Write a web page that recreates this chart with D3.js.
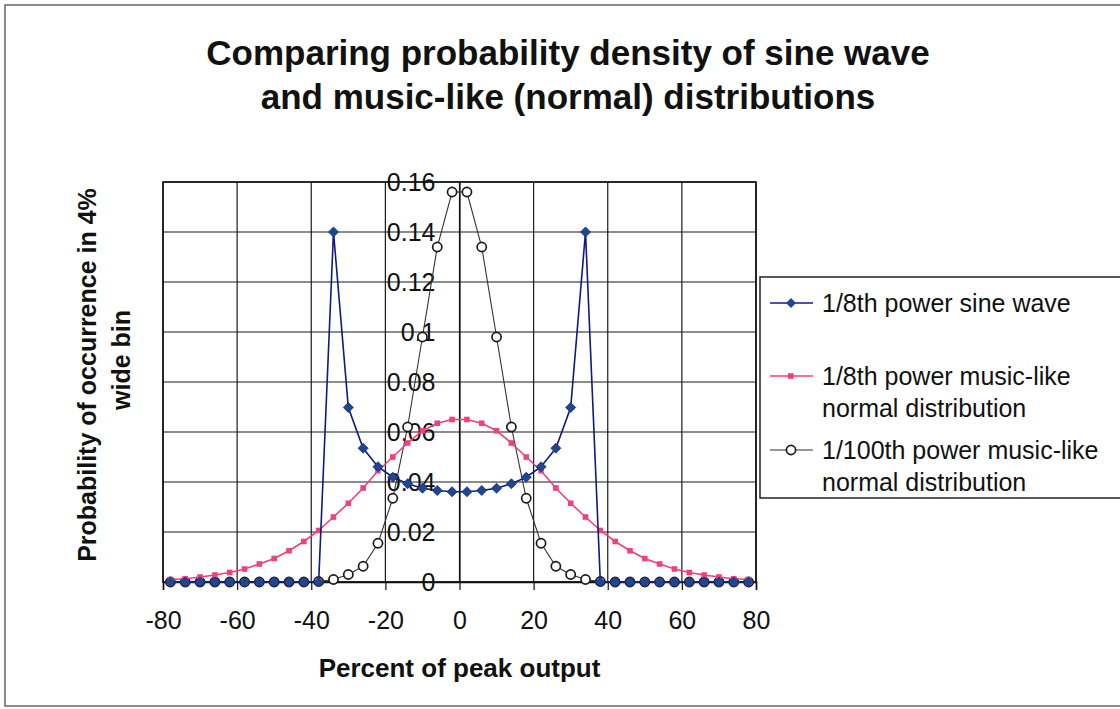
<!DOCTYPE html>
<meta charset="utf-8">
<style>
    body { margin: 0; background: white; }
    svg { font-family: "Liberation Sans", Arial, sans-serif; }
    .grid line { stroke: #1a1a1a; stroke-width: 1.2; }
    .tick-label { font-size: 25px; fill: #111; }
    .title { font-size: 35px; font-weight: bold; fill: #111; }
    .axis-title { font-weight: bold; fill: #111; }
    .legend-text { font-size: 25px; fill: #111; }
</style>
<body>
    <script src="https://d3js.org/d3.v7.min.js"></script>
    <script>
        // percent of peak output, centre of each 4% bin
        var percent = [-78, -74, -70, -66, -62, -58, -54, -50, -46, -42,
                       -38, -34, -30, -26, -22, -18, -14, -10, -6, -2,
                       2, 6, 10, 14, 18, 22, 26, 30, 34, 38,
                       42, 46, 50, 54, 58, 62, 66, 70, 74, 78];

        var sineWave = [0, 0, 0, 0, 0, 0, 0, 0, 0, 0,
                        0, 0.14, 0.0698, 0.0535, 0.0461, 0.0419, 0.0393, 0.0375, 0.0366, 0.0361,
                        0.0361, 0.0366, 0.0375, 0.0393, 0.0419, 0.0461, 0.0535, 0.0698, 0.14, 0,
                        0, 0, 0, 0, 0, 0, 0, 0, 0, 0];

        var musicEighth = [0.001, 0.0013, 0.002, 0.0028, 0.0038, 0.0052, 0.0072, 0.0094, 0.0125, 0.0162,
                           0.0206, 0.026, 0.0315, 0.0376, 0.0445, 0.050, 0.0556, 0.0605, 0.0635, 0.065,
                           0.065, 0.0635, 0.0605, 0.0556, 0.050, 0.0445, 0.0376, 0.0315, 0.026, 0.0206,
                           0.0162, 0.0125, 0.0094, 0.0072, 0.0052, 0.0038, 0.0028, 0.002, 0.0013, 0.001];

        var musicHundredth = [0, 0, 0, 0, 0, 0, 0, 0, 0, 0,
                              0.0002, 0.001, 0.003, 0.0063, 0.0155, 0.0335, 0.062, 0.098, 0.134, 0.156,
                              0.156, 0.134, 0.098, 0.062, 0.0335, 0.0155, 0.0063, 0.003, 0.001, 0.0002,
                              0, 0, 0, 0, 0, 0, 0, 0, 0, 0];

        var xTicks = [-80, -60, -40, -20, 0, 20, 40, 60, 80],
            xTickLabels = ['-80', '-60', '-40', '-20', '0', '20', '40', '60', '80'],
            yTicks = [0, 0.02, 0.04, 0.06, 0.08, 0.1, 0.12, 0.14, 0.16],
            yTickLabels = ['0', '0.02', '0.04', '0.06', '0.08', '0.1', '0.12', '0.14', '0.16'];

        var titleLines = ['Comparing probability density of sine wave',
                          'and music-like (normal) distributions'],
            yTitleLines = ['Probability of occurrence in 4%', 'wide bin'],
            xTitle = 'Percent of peak output';

        var seriesNames = [['1/8th power sine wave'],
                           ['1/8th power music-like', 'normal distribution'],
                           ['1/100th power music-like', 'normal distribution']];

        var width = 1120,
            height = 709,
            plot = {left: 163, right: 756, top: 182, bottom: 582};

        var svg = d3.select('body').append('svg')
            .attr('width', width)
            .attr('height', height);

        // outer chart frame (runs off the right edge)
        svg.append('path')
            .attr('d', 'M1125,5 L5,5 L5,706 L1125,706')
            .attr('fill', 'none')
            .attr('stroke', '#666')
            .attr('stroke-width', 1.5);

        var x = d3.scaleLinear().domain([-80, 80]).range([plot.left, plot.right]);
        var y = d3.scaleLinear().domain([0, 0.16]).range([plot.bottom, plot.top]);

        // grid
        var grid = svg.append('g').attr('class', 'grid');
        grid.selectAll('line.v').data(xTicks).enter().append('line')
            .attr('class', 'v')
            .attr('x1', function(d) { return x(d); })
            .attr('x2', function(d) { return x(d); })
            .attr('y1', plot.top)
            .attr('y2', plot.bottom);
        grid.selectAll('line.h').data(yTicks).enter().append('line')
            .attr('class', 'h')
            .attr('x1', plot.left)
            .attr('x2', plot.right)
            .attr('y1', function(d) { return y(d); })
            .attr('y2', function(d) { return y(d); });

        svg.append('rect')
            .attr('x', plot.left)
            .attr('y', plot.top)
            .attr('width', plot.right - plot.left)
            .attr('height', plot.bottom - plot.top)
            .attr('fill', 'none')
            .attr('stroke', '#111')
            .attr('stroke-width', 1.6);

        // x axis with tick marks below
        var xAxis = d3.axisBottom(x).tickValues(xTicks).tickSize(8)
            .tickFormat(function(d, i) { return xTickLabels[i]; });
        var gx = svg.append('g')
            .attr('transform', 'translate(0,' + plot.bottom + ')')
            .call(xAxis);
        gx.select('.domain').attr('stroke', '#111').attr('stroke-width', 1.6);
        gx.selectAll('.tick line').attr('stroke', '#111').attr('stroke-width', 1.2);
        gx.selectAll('.tick text')
            .attr('class', 'tick-label')
            .attr('font-family', null)
            .attr('font-size', null)
            .attr('dy', '0.71em')
            .attr('y', 29);

        // y axis crosses at 0, labels sit to its left
        var yAxis = d3.axisLeft(y).tickValues(yTicks).tickSize(0).tickPadding(24)
            .tickFormat(function(d, i) { return yTickLabels[i]; });
        var gy = svg.append('g')
            .attr('transform', 'translate(' + x(0) + ',0)')
            .call(yAxis);
        gy.select('.domain').attr('stroke', '#111').attr('stroke-width', 1.2);
        gy.selectAll('.tick text')
            .attr('class', 'tick-label')
            .attr('font-family', null)
            .attr('font-size', null);

        // series
        var line = d3.line()
            .x(function(d, i) { return x(percent[i]); })
            .y(function(d) { return y(d); });

        // square turned 45 degrees, about 10px corner to corner
        var diamond = d3.symbol().type(d3.symbolSquare).size(50);

        function drawCircles(values, g) {
            svg.append('path').datum(values)
                .attr('d', line)
                .attr('fill', 'none')
                .attr('stroke', '#333')
                .attr('stroke-width', 1.1);
            svg.selectAll('circle.' + g).data(values).enter().append('circle')
                .attr('class', g)
                .attr('cx', function(d, i) { return x(percent[i]); })
                .attr('cy', function(d) { return y(d); })
                .attr('r', 4.6)
                .attr('fill', 'white')
                .attr('stroke', '#1a1a1a')
                .attr('stroke-width', 1.7);
        }

        function drawSquares(values, g) {
            svg.append('path').datum(values)
                .attr('d', line)
                .attr('fill', 'none')
                .attr('stroke', '#ee3f78')
                .attr('stroke-width', 1.6);
            svg.selectAll('rect.' + g).data(values).enter().append('rect')
                .attr('class', g)
                .attr('x', function(d, i) { return x(percent[i]) - 2.8; })
                .attr('y', function(d) { return y(d) - 2.8; })
                .attr('width', 5.6)
                .attr('height', 5.6)
                .attr('fill', '#f04080');
        }

        function drawDiamonds(values, g) {
            svg.append('path').datum(values)
                .attr('d', line)
                .attr('fill', 'none')
                .attr('stroke', '#101a80')
                .attr('stroke-width', 1.6);
            svg.selectAll('path.' + g).data(values).enter().append('path')
                .attr('class', g)
                .attr('d', diamond)
                .attr('transform', function(d, i) {
                    return 'translate(' + x(percent[i]) + ',' + y(d) + ') rotate(45)';
                })
                .attr('fill', '#1f4690')
                .attr('stroke', '#14307a')
                .attr('stroke-width', 0.8);
        }

        drawCircles(musicHundredth, 'hundredth');
        drawSquares(musicEighth, 'eighth');
        drawDiamonds(sineWave, 'sine');

        // titles
        svg.selectAll('text.title').data(titleLines).enter().append('text')
            .attr('class', 'title')
            .attr('x', 568)
            .attr('y', function(d, i) { return 65 + i * 44; })
            .attr('text-anchor', 'middle')
            .text(function(d) { return d; });

        svg.append('text')
            .attr('class', 'axis-title')
            .attr('x', x(0))
            .attr('y', 677)
            .attr('font-size', 26)
            .attr('text-anchor', 'middle')
            .text(xTitle);

        svg.selectAll('text.ytitle').data(yTitleLines).enter().append('text')
            .attr('class', 'axis-title ytitle')
            .attr('font-size', 25)
            .attr('text-anchor', 'middle')
            .attr('transform', function(d, i) {
                return 'translate(' + (96 + i * 34) + ',' + (i ? 360 : 375) + ') rotate(-90)';
            })
            .text(function(d) { return d; });

        // legend
        var legend = svg.append('g');
        legend.append('rect')
            .attr('x', 760)
            .attr('y', 277)
            .attr('width', 380)
            .attr('height', 221)
            .attr('fill', 'white')
            .attr('stroke', '#222')
            .attr('stroke-width', 1.5);

        var legendY = [303, 376, 450];
        legendY.forEach(function(ly, k) {
            var g = legend.append('g');
            g.append('line')
                .attr('x1', 770).attr('x2', 813)
                .attr('y1', ly).attr('y2', ly)
                .attr('stroke', ['#101a80', '#ee3f78', '#333'][k])
                .attr('stroke-width', k === 2 ? 1.1 : 1.6);
            if (k === 0) {
                g.append('path').attr('d', diamond)
                    .attr('transform', 'translate(791,' + ly + ') rotate(45)')
                    .attr('fill', '#1f4690');
            } else if (k === 1) {
                g.append('rect').attr('x', 788).attr('y', ly - 2.8)
                    .attr('width', 5.6).attr('height', 5.6).attr('fill', '#f04080');
            } else {
                g.append('circle').attr('cx', 791).attr('cy', ly).attr('r', 4.6)
                    .attr('fill', 'white').attr('stroke', '#1a1a1a').attr('stroke-width', 1.7);
            }
            g.selectAll('text').data(seriesNames[k]).enter().append('text')
                .attr('class', 'legend-text')
                .attr('x', 822)
                .attr('y', function(d, i) { return ly + 9 + i * 32; })
                .text(function(d) { return d; });
        });
    </script>
</body>
